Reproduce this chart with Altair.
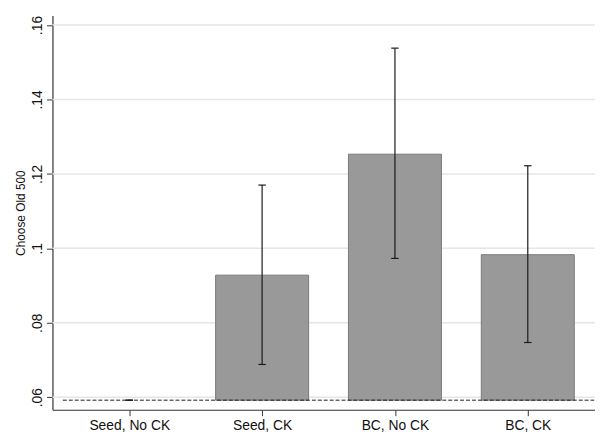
import altair as alt
import pandas as pd

categories = ["Seed, No CK", "Seed, CK", "BC, No CK", "BC, CK"]
positions = [1, 2, 3, 4]
means = [0.0592, 0.0928, 0.1253, 0.0983]
ci_lo = [0.0592, 0.0688, 0.0973, 0.0747]
ci_hi = [0.0592, 0.1170, 0.1538, 0.1222]
base_value = 0.0592
y_ticks = [0.06, 0.08, 0.10, 0.12, 0.14, 0.16]

df = pd.DataFrame({
    "cat": categories,
    "pos": positions,
    "mean": means,
    "lo": ci_lo,
    "hi": ci_hi,
})
df["base"] = base_value

FONT = "Liberation Sans"
xdom = [0.4219, 4.506]
ydom = [0.05663, 0.16258]

label_expr = " : ".join(
    [f"datum.value == {p} ? '{c}'" for p, c in zip(positions, categories)]
) + " : ''"

xscale = alt.Scale(domain=xdom, nice=False, zero=False)
yscale = alt.Scale(domain=ydom, nice=False, zero=False)

x_axis = alt.Axis(
    values=positions, labelExpr=label_expr, grid=False, title=None,
    tickSize=6, tickColor="#333333", domainColor="#333333", labelFont=FONT,
    labelFontSize=14, labelColor="#111111", labelPadding=3, domainWidth=1.2,
    labelFlush=False, offset=0,
)
y_axis = alt.Axis(
    values=y_ticks, labelExpr="substring(format(datum.value, '.2~f'), 1)",
    grid=False, title="Choose Old 500",
    titleFont=FONT, titleFontSize=12, titleFontWeight="normal", titleColor="#111111",
    titleAngle=-90, titleAlign="center", titleBaseline="alphabetic",
    titleX=-28, titleY=199.5,
    labelAngle=-90, labelAlign="center", labelBaseline="bottom", labelPadding=2,
    labelFont=FONT, labelFontSize=14, labelColor="#111111",
    tickSize=6, tickColor="#333333", domainColor="#333333", domainWidth=1.2,
    labelFlush=False, offset=0,
)

grid_df = pd.DataFrame({"y": y_ticks, "x1": xdom[0], "x2": xdom[1]})
grid = alt.Chart(grid_df).mark_rule(color="#e6e6e6", strokeWidth=1.5).encode(
    x=alt.X("x1:Q", scale=xscale, axis=x_axis),
    x2="x2:Q",
    y=alt.Y("y:Q", scale=yscale, axis=y_axis),
)

base = alt.Chart(df)

bars = base.transform_calculate(
    xl="datum.pos - 0.35", xr="datum.pos + 0.35"
).mark_rect(fill="#999999", stroke="#7a7a7a", strokeWidth=1).encode(
    x=alt.X("xl:Q", scale=xscale),
    x2="xr:Q",
    y=alt.Y("base:Q", scale=yscale),
    y2="mean:Q",
    strokeOpacity=alt.condition("datum.mean > datum.base + 0.0001", alt.value(1), alt.value(0)),
)

err = base.mark_rule(color="#1a1a1a", strokeWidth=1.2).encode(
    x=alt.X("pos:Q", scale=xscale),
    y=alt.Y("lo:Q", scale=yscale),
    y2="hi:Q",
)

caps_data = base.transform_calculate(
    cl="datum.pos - 0.028", cr="datum.pos + 0.028"
)
cap_hi = caps_data.mark_rule(color="#1a1a1a", strokeWidth=1.2).encode(
    x=alt.X("cl:Q", scale=xscale), x2="cr:Q", y=alt.Y("hi:Q", scale=yscale)
)
cap_lo = caps_data.mark_rule(color="#1a1a1a", strokeWidth=1.2).encode(
    x=alt.X("cl:Q", scale=xscale), x2="cr:Q", y=alt.Y("lo:Q", scale=yscale)
)

ref_df = pd.DataFrame({"y": [base_value], "x1": [0.5], "x2": [4.5]})
ref = alt.Chart(ref_df).mark_rule(color="#1a1a1a", strokeWidth=1, strokeDash=[4, 2]).encode(
    x=alt.X("x1:Q", scale=xscale), x2="x2:Q", y=alt.Y("y:Q", scale=yscale)
)

chart = alt.layer(grid, bars, err, cap_hi, cap_lo, ref).properties(
    width=549, height=399,
    padding={"left": 45, "top": 5, "right": 0, "bottom": 22},
    autosize=alt.AutoSizeParams(type="none"),
    background="white",
).configure_view(stroke=None)

chart.save("out.html", embed_options={"renderer": "svg", "actions": False})
